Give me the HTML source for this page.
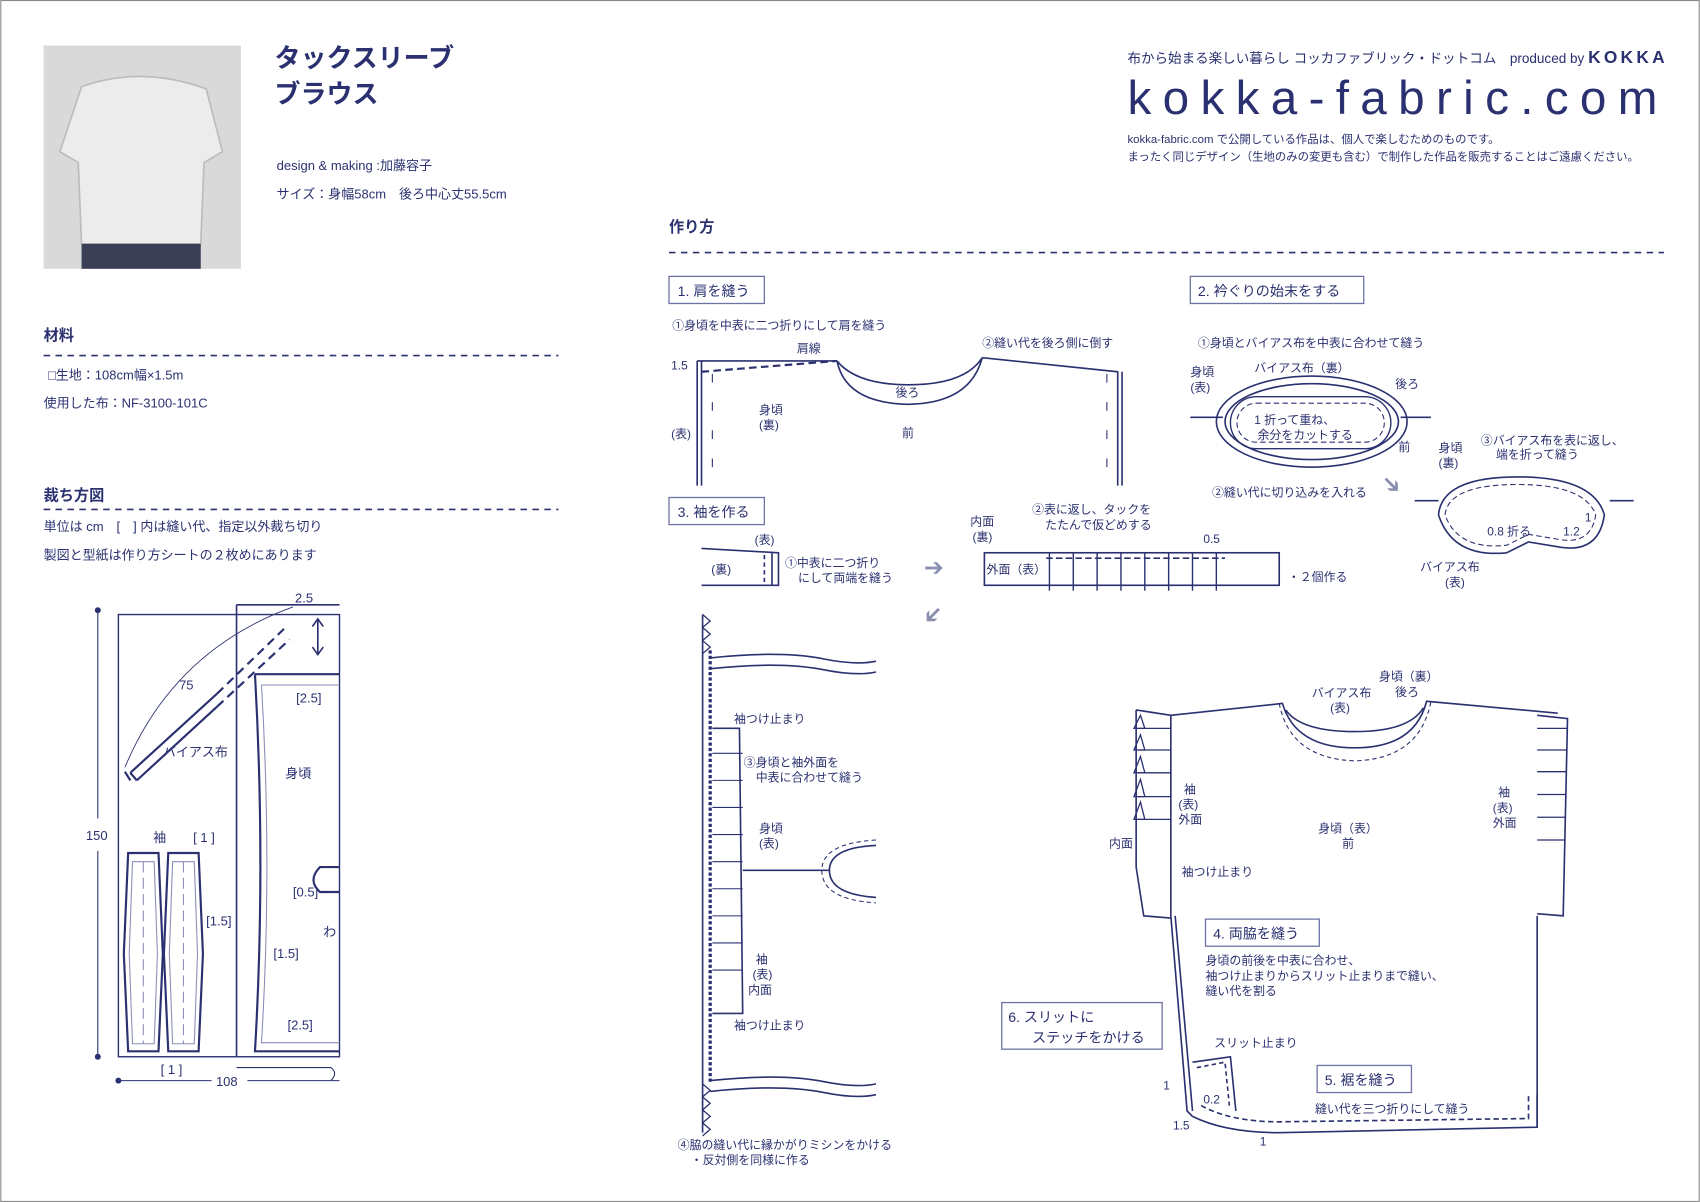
<!DOCTYPE html>
<html><head><meta charset="utf-8"><style>
html,body{margin:0;padding:0;background:#fff}
svg{display:block}
text{font-family:"Liberation Sans","Noto Sans CJK JP",sans-serif;fill:#2b3170}
</style></head><body>
<svg width="1700" height="1202" viewBox="0 0 1568 1109" xmlns="http://www.w3.org/2000/svg">
<rect x="0.5" y="0.5" width="1567" height="1108" fill="#fff" stroke="#888" stroke-width="1"/>
<g stroke="#2b3170" fill="none" stroke-width="1.5">
<!-- photo -->
<rect x="40" y="42" width="182" height="206" fill="#d9d9d9" stroke="none"/>
<path d="M75 80 Q130 60 190 82 L205 140 L188 150 L185 225 L75 225 L72 150 L55 140 Z" fill="#ececec" stroke="#bbb"/>
<rect x="75" y="225" width="110" height="23" fill="#3a3f55" stroke="none"/>
<!-- dashed rules -->
<line x1="617" y1="233" x2="1535" y2="233" stroke-dasharray="6 5"/>
<line x1="40" y1="328" x2="515" y2="328" stroke-dasharray="6 5"/>
<line x1="40" y1="470" x2="515" y2="470" stroke-dasharray="6 5"/>
<!-- cutting diagram -->
<rect x="109" y="567" width="204" height="408" stroke-width="1.3"/>
<line x1="218" y1="558" x2="218" y2="975"/>
<line x1="218" y1="558" x2="313" y2="558"/>
<path d="M235 622 L313 622 M235 622 Q245 800 235 970 L313 970" stroke-width="2"/>
<path d="M241 632 L313 632 M241 632 Q251 800 241 962 L313 962" stroke="#8a8fb8" stroke-width="1"/>
<path d="M313 800 L295 800 Q283 812 295 823 L313 823" stroke-width="2"/>
<path d="M120 713 L200 640 M126 720 L200 652" stroke-width="2"/>
<path d="M200 640 L262 580 M200 652 L267 590" stroke-width="2" stroke-dasharray="8 5"/>
<path d="M115 712 L120 720 M120 713 L126 720" stroke-width="2"/>
<line x1="293" y1="572" x2="293" y2="603"/>
<path d="M288 578 L293 571 L298 578 M288 597 L293 604 L298 597"/>
<path d="M118 787 L146 787 L150 880 L146 970 L118 970 L114 880 Z" stroke-width="2"/>
<path d="M155 787 L183 787 L187 880 L183 970 L155 970 L151 880 Z" stroke-width="2"/>
<path d="M122 795 L142 795 L145 880 L142 963 L122 963 L119 880Z M159 795 L179 795 L182 880 L179 963 L159 963 L156 880Z" stroke="#8a8fb8" stroke-width="1"/>
<line x1="132" y1="795" x2="132" y2="963" stroke="#8a8fb8" stroke-dasharray="10 5" stroke-width="1"/>
<line x1="169" y1="795" x2="169" y2="963" stroke="#8a8fb8" stroke-dasharray="10 5" stroke-width="1"/>
<line x1="90" y1="563" x2="90" y2="755" stroke-width="1"/><line x1="90" y1="785" x2="90" y2="975" stroke-width="1"/>
<circle cx="90" cy="563" r="2" fill="#2b3170"/><circle cx="90" cy="975" r="2" fill="#2b3170"/>
<line x1="109" y1="997" x2="195" y2="997" stroke-width="1"/><line x1="228" y1="997" x2="313" y2="997" stroke-width="1"/>
<circle cx="109" cy="997" r="2" fill="#2b3170"/>
<path d="M218 985 L305 985 Q312 990 305 997" stroke-width="1"/>
<path d="M115 708 Q160 600 270 560" stroke-width="0.8"/>
<!-- boxes -->
<g stroke="#6e73a3" stroke-width="1.2">
<rect x="617" y="255" width="88" height="25"/>
<rect x="1098" y="255" width="160" height="25"/>
<rect x="617" y="459" width="88" height="25"/>
<rect x="1112" y="848" width="105" height="25"/>
<rect x="1215" y="983" width="87" height="25"/>
<rect x="924" y="925" width="148" height="43"/>
</g>
<!-- step 1 -->
<path d="M643 333 L643 448 M647 333 L647 448 M643 333 L772 333"/>
<path d="M647 343 L772 333" stroke-dasharray="7 4" stroke-width="2"/>
<path d="M772 333 Q780 372 838 373 Q895 372 906 330"/>
<path d="M772 333 Q790 355 838 355 Q890 355 906 330"/>
<path d="M906 330 L1031 343 L1031 448 M1035 343 L1035 448"/>
<line x1="657" y1="345" x2="657" y2="440" stroke-dasharray="8 18" stroke-width="1"/>
<line x1="1021" y1="345" x2="1021" y2="440" stroke-dasharray="8 18" stroke-width="1"/>
<!-- step 2 -->
<ellipse cx="1210" cy="389" rx="88" ry="42"/>
<ellipse cx="1210" cy="389" rx="80" ry="35"/>
<rect x="1135" y="366" width="148" height="48" rx="24" stroke-width="1.3"/>
<rect x="1141" y="372" width="136" height="36" rx="18" stroke-dasharray="5 3" stroke-width="1"/>
<line x1="1098" y1="385" x2="1128" y2="385"/><line x1="1292" y1="385" x2="1320" y2="385"/>
<path d="M1327 475 Q1330 440 1400 440 Q1470 440 1480 475 Q1475 510 1440 505 L1410 500 L1390 510 Q1340 515 1327 475Z"/>
<path d="M1333 475 Q1336 447 1400 447 Q1462 447 1472 475 Q1468 502 1440 498 L1410 493 L1390 503 Q1345 508 1333 475Z" stroke-dasharray="5 3" stroke-width="1"/>
<line x1="1305" y1="462" x2="1327" y2="462"/><line x1="1485" y1="462" x2="1507" y2="462"/>
<!-- step 3 top -->
<path d="M647 506 L718 510 L718 540 L647 540 M712 510 L712 540"/>
<line x1="705" y1="512" x2="705" y2="538" stroke-dasharray="4 3"/>
<rect x="908" y="510" width="272" height="30"/>
<line x1="965" y1="515" x2="1130" y2="515" stroke-dasharray="6 3"/>
<g stroke-width="1.3">
<line x1="968" y1="510" x2="968" y2="545"/><line x1="990" y1="510" x2="990" y2="545"/><line x1="1012" y1="510" x2="1012" y2="545"/><line x1="1034" y1="510" x2="1034" y2="545"/><line x1="1056" y1="510" x2="1056" y2="545"/><line x1="1078" y1="510" x2="1078" y2="545"/><line x1="1100" y1="510" x2="1100" y2="545"/><line x1="1122" y1="510" x2="1122" y2="545"/>
</g>
<!-- step 3 lower -->
<path d="M648 567 L648 1045"/>
<path d="M648 567 l7 6 l-7 6 l7 6 l-7 6 l7 6 l-7 6 M648 1000 l7 6 l-7 6 l7 6 l-7 6 l7 6 l-7 6 l7 6 l-7 6" stroke-width="1.2"/>
<path d="M655 600 L655 1000" stroke-dasharray="3 2" stroke-width="3"/>
<path d="M655 607 Q720 600 760 608 Q790 614 808 610 M655 617 Q720 610 760 618 Q790 624 808 620"/>
<path d="M655 997 Q720 990 760 998 Q790 1004 808 1000 M655 1007 Q720 1000 760 1008 Q790 1014 808 1010"/>
<path d="M657 672 L682 672 L685 935 L657 935"/>
<g stroke-width="1"><line x1="657" y1="695" x2="685" y2="695"/><line x1="657" y1="720" x2="685" y2="720"/><line x1="657" y1="745" x2="685" y2="745"/><line x1="657" y1="770" x2="685" y2="770"/><line x1="657" y1="795" x2="685" y2="795"/><line x1="657" y1="820" x2="685" y2="820"/><line x1="657" y1="845" x2="685" y2="845"/><line x1="657" y1="870" x2="685" y2="870"/><line x1="657" y1="895" x2="685" y2="895"/></g>
<line x1="685" y1="803" x2="765" y2="803"/>
<path d="M808 780 Q765 782 765 803 Q765 825 808 828"/>
<path d="M808 775 Q758 778 758 803 Q758 830 808 833" stroke-dasharray="4 3" stroke-width="1"/>
<!-- final shirt -->
<path d="M1080 660 L1183 649 Q1195 690 1250 690 Q1305 690 1316 647 L1437 658"/>
<path d="M1186 655 Q1200 675 1250 675 Q1300 675 1313 653"/>
<path d="M1180 649 Q1190 700 1250 702 Q1310 700 1320 647" stroke-dasharray="4 3" stroke-width="1"/>
<path d="M1080 660 L1080 845 L1095 1025 L1100 1030"/>
<path d="M1084 845 L1100 1025"/>
<path d="M1418 845 L1418 1040"/>
<path d="M1048 655 L1080 660 M1048 655 L1048 800 L1055 845 L1080 847"/>
<g stroke-width="1.2"><line x1="1050" y1="672" x2="1080" y2="672"/><line x1="1050" y1="692" x2="1080" y2="692"/><line x1="1050" y1="713" x2="1080" y2="713"/><line x1="1050" y1="735" x2="1080" y2="735"/><line x1="1050" y1="756" x2="1080" y2="756"/></g>
<path d="M1052 660 L1046 672 L1056 672Z M1052 678 L1046 692 L1056 692Z M1052 698 L1046 713 L1056 713Z M1052 719 L1046 735 L1056 735Z M1052 740 L1046 756 L1056 756Z" stroke-width="1.2"/>
<path d="M1418 660 L1446 663 L1442 845 L1418 843"/>
<g stroke-width="1.2"><line x1="1418" y1="672" x2="1446" y2="672"/><line x1="1418" y1="692" x2="1446" y2="692"/><line x1="1418" y1="712" x2="1445" y2="712"/><line x1="1418" y1="733" x2="1445" y2="733"/><line x1="1418" y1="754" x2="1444" y2="754"/><line x1="1418" y1="775" x2="1444" y2="775"/></g>
<path d="M1100 1030 Q1130 1045 1180 1045 L1418 1040 L1418 1010"/>
<path d="M1108 1020 Q1135 1035 1180 1035 L1410 1032 L1410 1010" stroke-dasharray="5 3"/>
<path d="M1100 980 L1135 975 L1140 1025" />
<path d="M1104 985 L1130 980 L1134 1020" stroke-dasharray="4 3"/>
</g>
<!-- gray arrows -->
<text x="852" y="531" font-size="22" style="fill:#8a8fb0">➔</text>
<text x="1275" y="455" font-size="22" style="fill:#8a8fb0" transform="rotate(45 1285 447)">➔</text>
<text x="850" y="575" font-size="22" style="fill:#8a8fb0" transform="rotate(135 860 568)">➔</text>
<!-- texts -->
<text x="253" y="62" font-size="24" font-weight="bold">タックスリーブ</text>
<text x="253" y="95" font-size="24" font-weight="bold">ブラウス</text>
<text x="255" y="157" font-size="12">design &amp; making :加藤容子</text>
<text x="255" y="183" font-size="12">サイズ：身幅58cm　後ろ中心丈55.5cm</text>
<text x="1040" y="58" font-size="12.5">布から始まる楽しい暮らし コッカファブリック・ドットコム　produced by <tspan font-weight="bold" font-size="16" letter-spacing="3">KOKKA</tspan></text>
<text x="1040" y="105" font-size="44" textLength="495" lengthAdjust="spacing" style="letter-spacing:6px">kokka-fabric.com</text>
<text x="1040" y="132" font-size="10.5">kokka-fabric.com で公開している作品は、個人で楽しむためのものです。</text>
<text x="1040" y="148" font-size="10.5">まったく同じデザイン（生地のみの変更も含む）で制作した作品を販売することはご遠慮ください。</text>
<text x="617" y="214" font-size="14" font-weight="bold">作り方</text>
<text x="40" y="314" font-size="14" font-weight="bold">材料</text>
<text x="44" y="350" font-size="12">□生地：108cm幅×1.5m</text>
<text x="40" y="376" font-size="12">使用した布：NF-3100-101C</text>
<text x="40" y="462" font-size="14" font-weight="bold">裁ち方図</text>
<text x="40" y="490" font-size="12">単位は cm　[　] 内は縫い代、指定以外裁ち切り</text>
<text x="40" y="516" font-size="12">製図と型紙は作り方シートの２枚めにあります</text>
<g font-size="12">
<text x="272" y="556">2.5</text><text x="165" y="636">75</text><text x="150" y="698">バイアス布</text>
<text x="273" y="648">[2.5]</text><text x="263" y="718">身頃</text><text x="141" y="777">袖</text><text x="178" y="777">[ 1 ]</text>
<text x="270" y="827">[0.5]</text><text x="190" y="854">[1.5]</text><text x="252" y="884">[1.5]</text><text x="298" y="864">わ</text>
<text x="265" y="950">[2.5]</text><text x="148" y="991">[ 1 ]</text><text x="79" y="775">150</text><text x="199" y="1002">108</text>
</g>
<g font-size="13">
<text x="625" y="273">1. 肩を縫う</text><text x="1105" y="273">2. 衿ぐりの始末をする</text><text x="625" y="477">3. 袖を作る</text>
<text x="1119" y="866">4. 両脇を縫う</text><text x="1222" y="1001">5. 裾を縫う</text>
<text x="930" y="943">6. スリットに</text><text x="952" y="962">ステッチをかける</text>
</g>
<g font-size="11">
<text x="620" y="304">①身頃を中表に二つ折りにして肩を縫う</text>
<text x="735" y="325">肩線</text><text x="906" y="320">②縫い代を後ろ側に倒す</text>
<text x="619" y="341">1.5</text><text x="826" y="366">後ろ</text><text x="700" y="382">身頃</text><text x="700" y="396">(裏)</text>
<text x="832" y="403">前</text><text x="619" y="404">(表)</text>
<text x="1105" y="320">①身頃とバイアス布を中表に合わせて縫う</text>
<text x="1157" y="343">バイアス布（裏）</text><text x="1287" y="358">後ろ</text>
<text x="1098" y="347">身頃</text><text x="1098" y="361">(表)</text>
<text x="1157" y="391">1 折って重ね、</text><text x="1160" y="405">余分をカットする</text><text x="1290" y="416">前</text>
<text x="1118" y="458">②縫い代に切り込みを入れる</text>
<text x="1366" y="410">③バイアス布を表に返し、</text><text x="1380" y="423">端を折って縫う</text>
<text x="1327" y="417">身頃</text><text x="1327" y="431">(裏)</text>
<text x="1372" y="494">0.8 折る</text><text x="1442" y="494">1.2</text><text x="1462" y="481">1</text>
<text x="1310" y="527">バイアス布</text><text x="1333" y="541">(表)</text>
<text x="696" y="502">(表)</text><text x="656" y="529">(裏)</text>
<text x="724" y="523">①中表に二つ折り</text><text x="736" y="537">にして両端を縫う</text>
<text x="895" y="485">内面</text><text x="897" y="499">(裏)</text>
<text x="952" y="474">②表に返し、タックを</text><text x="964" y="488">たたんで仮どめする</text>
<text x="1110" y="501">0.5</text><text x="910" y="529">外面（表）</text><text x="1188" y="536">・２個作る</text>
<text x="677" y="667">袖つけ止まり</text><text x="686" y="707">③身頃と袖外面を</text><text x="697" y="721">中表に合わせて縫う</text>
<text x="700" y="768">身頃</text><text x="700" y="782">(表)</text>
<text x="697" y="889">袖</text><text x="694" y="903">(表)</text><text x="690" y="917">内面</text><text x="677" y="950">袖つけ止まり</text>
<text x="625" y="1060">④脇の縫い代に縁かがりミシンをかける</text><text x="637" y="1074">・反対側を同様に作る</text>
<text x="1272" y="628">身頃（裏）</text><text x="1287" y="642">後ろ</text>
<text x="1210" y="643">バイアス布</text><text x="1227" y="657">(表)</text>
<text x="1092" y="732">袖</text><text x="1087" y="746">(表)</text><text x="1087" y="760">外面</text>
<text x="1023" y="782">内面</text><text x="1090" y="808">袖つけ止まり</text>
<text x="1216" y="768">身頃（表）</text><text x="1238" y="782">前</text>
<text x="1382" y="735">袖</text><text x="1377" y="749">(表)</text><text x="1377" y="763">外面</text>
<text x="1112" y="890">身頃の前後を中表に合わせ、</text><text x="1112" y="904">袖つけ止まりからスリット止まりまで縫い、</text><text x="1112" y="918">縫い代を割る</text>
<text x="1120" y="966">スリット止まり</text><text x="1073" y="1005">1</text><text x="1110" y="1018">0.2</text>
<text x="1213" y="1027">縫い代を三つ折りにして縫う</text><text x="1082" y="1042">1.5</text><text x="1162" y="1057">1</text>
</g>
</svg>
</body></html>
